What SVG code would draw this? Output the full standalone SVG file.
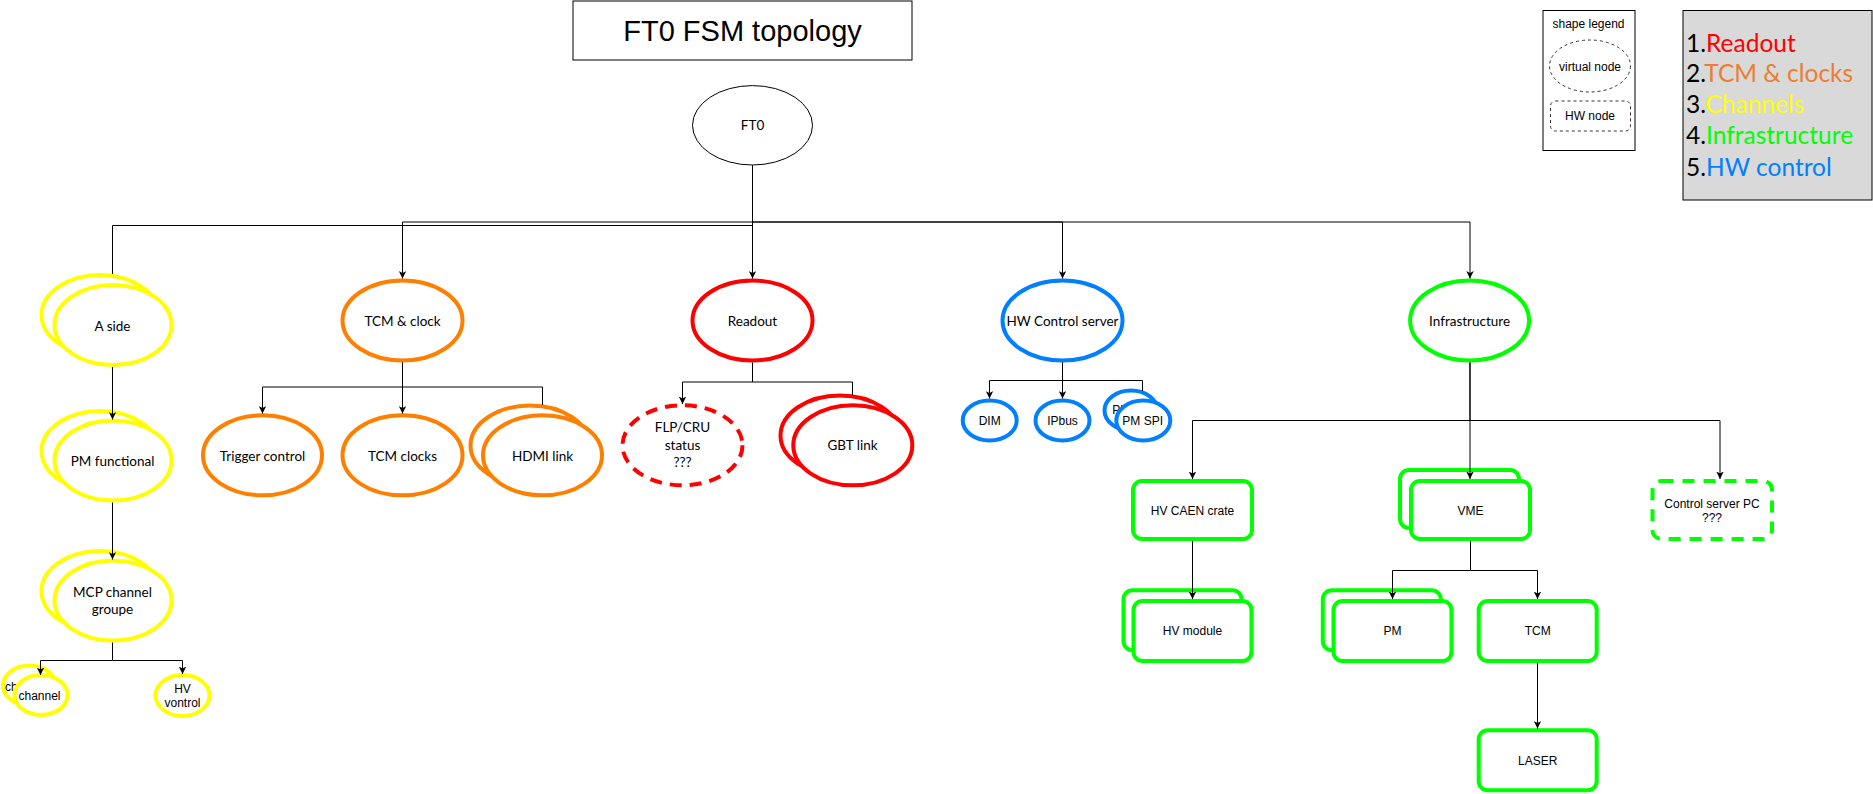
<svg xmlns="http://www.w3.org/2000/svg" width="1873" height="794" viewBox="0 0 1873 794">
<defs>
<style>
.c{font-family:Lato,"Open Sans",sans-serif;font-size:13.5px;text-anchor:middle;fill:#000}
.a{font-family:"Liberation Sans",Arial,sans-serif;font-size:12px;text-anchor:middle;fill:#000}
.e{fill:none;stroke:#000;stroke-width:1}
.y{fill:#fff;stroke:#FFFF00;stroke-width:4}
.o{fill:#fff;stroke:#FF8000;stroke-width:4}
.r{fill:#fff;stroke:#FF0000;stroke-width:4}
.b{fill:#fff;stroke:#007FFF;stroke-width:4}
.gr{fill:#fff;stroke:#00FF00;stroke-width:4}
.lg{font-family:Lato,"Open Sans",sans-serif;font-size:24.5px;fill:#000}
</style>
<marker id="arr" markerWidth="7.5" markerHeight="7.5" viewBox="0 0 8 8" refX="8" refY="4" orient="auto" markerUnits="userSpaceOnUse"><path d="M0,0 L8,4 L0,8 L2,4 z" fill="#000"/></marker>
</defs>
<rect x="0" y="0" width="1873" height="794" fill="#fff"/>

<g id="title">
<rect x="573" y="1" width="339" height="59" fill="#fff" stroke="#000" stroke-width="1"/>
<text x="742.5" y="40.7" font-family="Liberation Sans, Arial, sans-serif" font-size="29" text-anchor="middle">FT0 FSM topology</text>
</g>

<g id="shape-legend">
<rect x="1543" y="10.5" width="92" height="140" fill="#fff" stroke="#000" stroke-width="1"/>
<text class="a" x="1588.5" y="27.5">shape legend</text>
<ellipse cx="1590" cy="66" rx="40.5" ry="26" fill="#fff" stroke="#333" stroke-dasharray="3 3"/>
<text class="a" x="1590" y="70.5">virtual node</text>
<rect x="1550.5" y="101" width="80" height="30" rx="5" fill="#fff" stroke="#333" stroke-dasharray="3 3"/>
<text class="a" x="1590" y="120">HW node</text>
</g>

<g id="color-legend">
<rect x="1683" y="10.5" width="189" height="189.5" fill="#D9D9D9" stroke="#000" stroke-width="1"/>
<text class="lg" x="1686" y="51.7">1.<tspan fill="#FF0000">Readout</tspan></text>
<text class="lg" x="1686" y="82.3">2.<tspan fill="#ED7D31">TCM &amp; clocks</tspan></text>
<text class="lg" x="1686" y="112.9">3.<tspan fill="#FFFF00">Channels</tspan></text>
<text class="lg" x="1686" y="144">4.<tspan fill="#00FF00">Infrastructure</tspan></text>
<text class="lg" x="1686" y="175.5">5.<tspan fill="#007FFF">HW control</tspan></text>
</g>

<g id="ft0">
<ellipse cx="752.5" cy="125.3" rx="60" ry="39.7" fill="#fff" stroke="#000" stroke-width="1"/>
<text class="c" x="752.5" y="130">FT0</text>
</g>

<g id="a-side">
<ellipse class="y" cx="100" cy="315" rx="58.5" ry="40"/>
<ellipse class="y" cx="113" cy="325" rx="58.5" ry="40"/>
<text class="c" x="112.5" y="330.5">A side</text>
</g>
<g id="pm-functional">
<ellipse class="y" cx="100" cy="451" rx="58.5" ry="40"/>
<ellipse class="y" cx="113" cy="460.5" rx="58.5" ry="40"/>
<text class="c" x="112.5" y="465.5">PM functional</text>
</g>
<g id="mcp-channel-groupe">
<ellipse class="y" cx="100" cy="591" rx="58.5" ry="40"/>
<ellipse class="y" cx="113" cy="600.5" rx="58.5" ry="40"/>
<text class="c" x="112.5" y="597">MCP channel</text>
<text class="c" x="112.5" y="614">groupe</text>
</g>
<g id="channel">
<ellipse class="y" cx="29.5" cy="685.5" rx="26.5" ry="20"/>
<text class="a" x="26" y="690.5">channel</text>
<ellipse class="y" cx="41" cy="695" rx="26.5" ry="20"/>
<text class="a" x="39.5" y="699.5">channel</text>
</g>
<g id="hv-vontrol">
<ellipse class="y" cx="182.5" cy="695.5" rx="27" ry="20.5"/>
<text class="a" x="182.5" y="693.3">HV</text>
<text class="a" x="182.5" y="706.7">vontrol</text>
</g>

<g id="tcm-clock">
<ellipse class="o" cx="402.5" cy="320.5" rx="60" ry="40"/>
<text class="c" x="402.5" y="325.5">TCM &amp; clock</text>
</g>
<g id="trigger-control">
<ellipse class="o" cx="262.5" cy="455.3" rx="59.5" ry="40"/>
<text class="c" x="262.5" y="460.5">Trigger control</text>
</g>
<g id="tcm-clocks">
<ellipse class="o" cx="402.5" cy="455.3" rx="60" ry="40"/>
<text class="c" x="402.5" y="460.5">TCM clocks</text>
</g>
<g id="hdmi-link">
<ellipse class="o" cx="530" cy="445.5" rx="59.5" ry="40"/>
<ellipse class="o" cx="542.5" cy="455.3" rx="59.5" ry="40"/>
<text class="c" x="542.5" y="460.5">HDMI link</text>
</g>

<g id="readout">
<ellipse class="r" cx="752.5" cy="320.5" rx="60" ry="40"/>
<text class="c" x="752.5" y="325.5">Readout</text>
</g>
<g id="flp-cru-status">
<ellipse class="r" cx="682.5" cy="445.3" rx="60" ry="40" stroke-dasharray="12 8"/>
<text class="c" x="682.5" y="432.3">FLP/CRU</text>
<text class="c" x="682.5" y="449.5">status</text>
<text class="c" x="682.5" y="466.7">???</text>
</g>
<g id="gbt-link">
<ellipse class="r" cx="840" cy="435.5" rx="59.5" ry="40"/>
<ellipse class="r" cx="852.8" cy="445.3" rx="59.5" ry="40"/>
<text class="c" x="852.5" y="450.3">GBT link</text>
</g>

<g id="hw-control-server">
<ellipse class="b" cx="1062.5" cy="320.5" rx="60" ry="40"/>
<text class="c" x="1062.5" y="325.5">HW Control server</text>
</g>
<g id="dim">
<ellipse class="b" cx="989.7" cy="420.5" rx="27" ry="20"/>
<text class="a" x="989.7" y="425">DIM</text>
</g>
<g id="ipbus">
<ellipse class="b" cx="1062.5" cy="420.5" rx="27" ry="20"/>
<text class="a" x="1062.5" y="425">IPbus</text>
</g>
<g id="pm-spi">
<ellipse class="b" cx="1131" cy="410.5" rx="26.5" ry="20"/>
<text class="a" x="1132.7" y="414">PM SPI</text>
<ellipse class="b" cx="1143.3" cy="420.5" rx="27" ry="20"/>
<text class="a" x="1142.7" y="425">PM SPI</text>
</g>

<g id="infrastructure">
<ellipse class="gr" cx="1469.6" cy="320.5" rx="59.5" ry="40"/>
<text class="c" x="1469.6" y="325.5">Infrastructure</text>
</g>
<g id="hv-caen-crate">
<rect class="gr" x="1133" y="481" width="119" height="58" rx="9"/>
<text class="a" x="1192.5" y="514.5">HV CAEN crate</text>
</g>
<g id="vme">
<rect class="gr" x="1400" y="470" width="119" height="58" rx="9"/>
<rect class="gr" x="1411" y="481" width="119" height="58" rx="9"/>
<text class="a" x="1470.5" y="514.5">VME</text>
</g>
<g id="control-server-pc">
<rect class="gr" x="1652.5" y="481" width="119.5" height="58" rx="9" stroke-dasharray="12 9"/>
<text class="a" x="1712" y="507.7">Control server PC</text>
<text class="a" x="1712" y="521.7">???</text>
</g>
<g id="hv-module">
<rect class="gr" x="1123.5" y="590.3" width="118" height="60" rx="9"/>
<rect class="gr" x="1133.5" y="601" width="118" height="60" rx="9"/>
<text class="a" x="1192.5" y="635.3">HV module</text>
</g>
<g id="pm">
<rect class="gr" x="1322.8" y="590.3" width="118" height="60" rx="9"/>
<rect class="gr" x="1333.5" y="601" width="118" height="60" rx="9"/>
<text class="a" x="1392.5" y="635.3">PM</text>
</g>
<g id="tcm">
<rect class="gr" x="1478.7" y="601" width="118" height="60" rx="9"/>
<text class="a" x="1537.7" y="635.3">TCM</text>
</g>
<g id="laser">
<rect class="gr" x="1478.7" y="730.3" width="118" height="60" rx="9"/>
<text class="a" x="1537.7" y="764.6">LASER</text>
</g>

<g id="connectors">
<path class="e" d="M752.5,165 V225.5 H112.5 V274"/>
<path class="e" d="M752.5,165 V222 H402.5 V278.5" marker-end="url(#arr)"/>
<path class="e" d="M752.5,165 V278.5" marker-end="url(#arr)"/>
<path class="e" d="M752.5,165 V222 H1062.5 V278.5" marker-end="url(#arr)"/>
<path class="e" d="M752.5,222 H1470 V278.5" marker-end="url(#arr)"/>
<path class="e" d="M112.5,367 V419.5" marker-end="url(#arr)"/>
<path class="e" d="M112.5,502.5 V559.5" marker-end="url(#arr)"/>
<path class="e" d="M112.5,642.5 V660.5 H40.5 V675" marker-end="url(#arr)"/>
<path class="e" d="M112.5,660.5 H182.5 V674" marker-end="url(#arr)"/>
<path class="e" d="M402.5,362.5 V387 H262.5 V413.5" marker-end="url(#arr)"/>
<path class="e" d="M402.5,362.5 V413.5" marker-end="url(#arr)"/>
<path class="e" d="M402.5,387 H542.5 V405"/>
<path class="e" d="M752.5,362.5 V382 H682.5 V404" marker-end="url(#arr)"/>
<path class="e" d="M752.5,382 H852.5 V395"/>
<path class="e" d="M1062.5,362.5 V380.5 H989.5 V398.5" marker-end="url(#arr)"/>
<path class="e" d="M1062.5,362.5 V398.5" marker-end="url(#arr)"/>
<path class="e" d="M1062.5,380.5 H1142.5 V391"/>
<path class="e" d="M1470,362.5 V420.5 H1192.5 V479" marker-end="url(#arr)"/>
<path class="e" d="M1470,362.5 V479" marker-end="url(#arr)"/>
<path class="e" d="M1470,420.5 H1720 V479" marker-end="url(#arr)"/>
<path class="e" d="M1192.5,541 V599" marker-end="url(#arr)"/>
<path class="e" d="M1470.5,541 V570.5 H1392.5 V599" marker-end="url(#arr)"/>
<path class="e" d="M1470.5,570.5 H1537.5 V599" marker-end="url(#arr)"/>
<path class="e" d="M1537.5,663 V728.5" marker-end="url(#arr)"/>
</g>
</svg>
